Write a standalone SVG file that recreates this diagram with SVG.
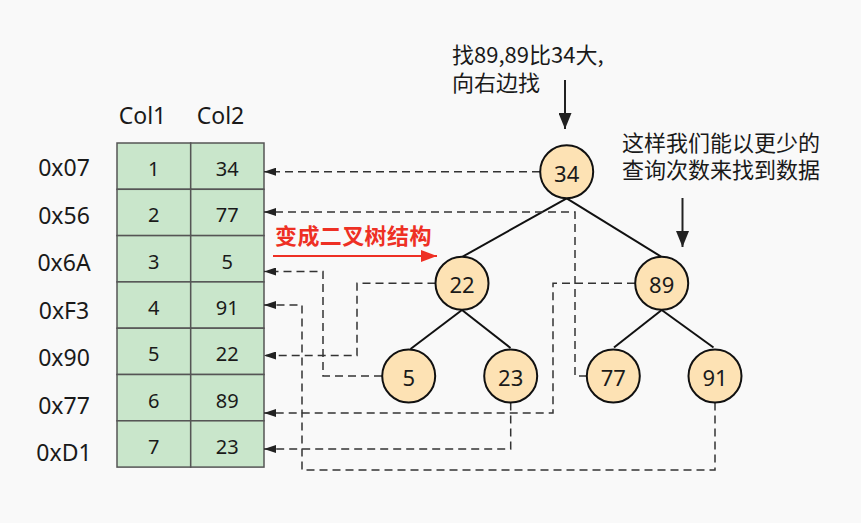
<svg xmlns="http://www.w3.org/2000/svg" width="861" height="523" viewBox="0 0 861 523">
<defs>
<style>
.t{font-family:"Noto Sans","Noto Sans CJK SC",sans-serif;fill:#1a1a1a}
.lab{font-size:23px;text-anchor:middle}
.cell{font-size:20px;text-anchor:middle}
.num{font-size:22px;text-anchor:middle}
.note{font-family:"Noto Sans CJK SC","Noto Sans",sans-serif;font-size:22px;fill:#1a1a1a}
.red{font-family:"Noto Sans CJK SC","Noto Sans",sans-serif;font-size:22px;font-weight:bold;fill:#ee3024;letter-spacing:0.4px}
.cellr{fill:#c9e6cb;stroke:#555;stroke-width:1.5}
.node circle{fill:#fde2b4;stroke:#111;stroke-width:2}
.edge{stroke:#111;stroke-width:2;fill:none}
.dash{stroke:#333;stroke-width:1.5;fill:none;stroke-dasharray:8 5;marker-end:url(#ah)}
</style>
<marker id="ah" markerUnits="userSpaceOnUse" markerWidth="12" markerHeight="8" refX="12" refY="4" orient="auto">
<path d="M0,0 L12,4 L0,8 z" fill="#222"/>
</marker>
<marker id="big" markerUnits="userSpaceOnUse" markerWidth="16" markerHeight="13" refX="16" refY="6.5" orient="auto">
<path d="M0,0 L16,6.5 L0,13 z" fill="#222"/>
</marker>
<marker id="redh" markerUnits="userSpaceOnUse" markerWidth="16" markerHeight="12" refX="16" refY="6" orient="auto">
<path d="M0,0 L16,6 L0,12 z" fill="#ee3024"/>
</marker>
</defs>
<rect width="861" height="523" fill="#f9f9f9"/>

<g id="table">
<text class="t lab" x="142.5" y="124">Col1</text>
<text class="t lab" x="220.5" y="124">Col2</text>
<g id="row1"><rect class="cellr" x="117" y="143" width="73.7" height="46.3"/><rect class="cellr" x="190.7" y="143" width="73.3" height="46.3"/><text class="t cell" x="153.8" y="176">1</text><text class="t cell" x="227.3" y="176">34</text><text class="t lab" x="64" y="176">0x07</text></g>
<g id="row2"><rect class="cellr" x="117" y="189.3" width="73.7" height="46.3"/><rect class="cellr" x="190.7" y="189.3" width="73.3" height="46.3"/><text class="t cell" x="153.8" y="222.3">2</text><text class="t cell" x="227.3" y="222.3">77</text><text class="t lab" x="64" y="223.5">0x56</text></g>
<g id="row3"><rect class="cellr" x="117" y="235.6" width="73.7" height="46.3"/><rect class="cellr" x="190.7" y="235.6" width="73.3" height="46.3"/><text class="t cell" x="153.8" y="268.6">3</text><text class="t cell" x="227.3" y="268.6">5</text><text class="t lab" x="64" y="271">0x6A</text></g>
<g id="row4"><rect class="cellr" x="117" y="281.9" width="73.7" height="46.3"/><rect class="cellr" x="190.7" y="281.9" width="73.3" height="46.3"/><text class="t cell" x="153.8" y="314.9">4</text><text class="t cell" x="227.3" y="314.9">91</text><text class="t lab" x="64" y="318.5">0xF3</text></g>
<g id="row5"><rect class="cellr" x="117" y="328.2" width="73.7" height="46.3"/><rect class="cellr" x="190.7" y="328.2" width="73.3" height="46.3"/><text class="t cell" x="153.8" y="361.2">5</text><text class="t cell" x="227.3" y="361.2">22</text><text class="t lab" x="64" y="366">0x90</text></g>
<g id="row6"><rect class="cellr" x="117" y="374.5" width="73.7" height="46.3"/><rect class="cellr" x="190.7" y="374.5" width="73.3" height="46.3"/><text class="t cell" x="153.8" y="407.5">6</text><text class="t cell" x="227.3" y="407.5">89</text><text class="t lab" x="64" y="413.5">0x77</text></g>
<g id="row7"><rect class="cellr" x="117" y="420.8" width="73.7" height="46.3"/><rect class="cellr" x="190.7" y="420.8" width="73.3" height="46.3"/><text class="t cell" x="153.8" y="453.8">7</text><text class="t cell" x="227.3" y="453.8">23</text><text class="t lab" x="64" y="461">0xD1</text></g>
</g>

<g id="connectors">
<path class="edge" d="M566.7,198.3 L462,257"/>
<path class="edge" d="M566.7,198.3 L661.7,257"/>
<path class="edge" d="M462,310 L410.5,349"/>
<path class="edge" d="M462,310 L510.5,348"/>
<path class="edge" d="M661.7,310 L614,347.5"/>
<path class="edge" d="M661.7,310 L713.5,347.5"/>
<path class="dash" d="M540,171.7 H264"/>
<path class="dash" d="M587,376 H575 V212 H264"/>
<path class="dash" d="M382,376 H323 V271.5 H264"/>
<path class="dash" d="M715,402.5 V470 H302 V305 H264"/>
<path class="dash" d="M435.5,283.3 H357 V355.5 H264"/>
<path class="dash" d="M635,283.3 H553 V413 H264"/>
<path class="dash" d="M510.7,402.5 V449 H264"/>
<path d="M273,256 H437" stroke="#ee3024" stroke-width="2" fill="none" marker-end="url(#redh)"/>
<path d="M565,80 V129" stroke="#222" stroke-width="2" fill="none" marker-end="url(#big)"/>
<path d="M682.5,198 V247" stroke="#222" stroke-width="2" fill="none" marker-end="url(#big)"/>
</g>

<g id="n34" class="node"><circle cx="566.7" cy="171.7" r="26.5"/><text class="t num" x="566.7" y="181.7">34</text></g>
<g id="n22" class="node"><circle cx="462" cy="283.3" r="26.5"/><text class="t num" x="462" y="293.3">22</text></g>
<g id="n89" class="node"><circle cx="661.7" cy="283.3" r="26.5"/><text class="t num" x="661.7" y="293.3">89</text></g>
<g id="n5" class="node"><circle cx="408.7" cy="376" r="26.5"/><text class="t num" x="408.7" y="386">5</text></g>
<g id="n23" class="node"><circle cx="510.7" cy="376" r="26.5"/><text class="t num" x="510.7" y="386">23</text></g>
<g id="n77" class="node"><circle cx="613.3" cy="376" r="26.5"/><text class="t num" x="613.3" y="386">77</text></g>
<g id="n91" class="node"><circle cx="715" cy="376" r="26.5"/><text class="t num" x="715" y="386">91</text></g>

<g id="labels">
<text class="red" x="275" y="244">变成二叉树结构</text>
<text class="note" x="452" y="63">找89,89比34大,</text>
<text class="note" x="452" y="91">向右边找</text>
<text class="note" x="622" y="151">这样我们能以更少的</text>
<text class="note" x="622" y="178">查询次数来找到数据</text>
</g>
</svg>
